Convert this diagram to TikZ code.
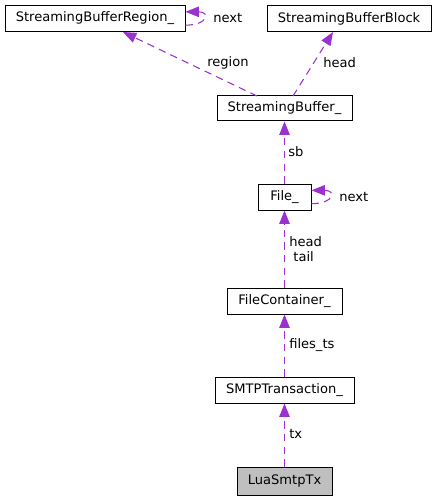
\documentclass[tikz,border=0pt]{standalone}
\usepackage{fontspec}
\setmainfont{DejaVu Sans}
\usetikzlibrary{arrows.meta}
\definecolor{edgec}{HTML}{9A32CD}
\definecolor{boxgray}{HTML}{BFBFBF}
\tikzset{
  cls/.style={draw=black, line width=0.75pt, fill=white, inner sep=0pt, font=\fontsize{9.8pt}{11pt}\selectfont, minimum height=0.75*26pt},
  dep/.style={draw=edgec, line width=0.8pt, dash pattern=on 5.5pt off 4pt, -{Triangle[length=10pt,width=7.8pt,fill=edgec]}},
  lbl/.style={font=\fontsize{9.8pt}{11pt}\selectfont, inner sep=0pt, anchor=west, align=left}
}
\begin{document}
\begin{tikzpicture}[x=0.75pt,y=-0.75pt]
\useasboundingbox (0,0) rectangle (436,499);
\node[cls, minimum width=0.75*180pt] (sbr) at (95,18.5) {StreamingBufferRegion\_};
\node[cls, minimum width=0.75*164pt] (sbb) at (349,18.5) {StreamingBufferBlock};
\node[cls, minimum width=0.75*135pt, minimum height=0.75*25pt] (sb) at (284.5,108.5) {StreamingBuffer\_};
\node[cls, minimum width=0.75*53pt] (file) at (284.5,197) {File\_};
\node[cls, minimum width=0.75*115pt] (fc) at (284.5,301) {FileContainer\_};
\node[cls, minimum width=0.75*139pt] (smtp) at (284.5,390) {SMTPTransaction\_};
\node[cls, fill=boxgray, minimum width=0.75*95pt, minimum height=0.75*28pt] (lua) at (284.5,481) {LuaSmtpTx};

\coordinate (sbrIn) at (123,32);
\coordinate (sbOutL) at (257,96);
\coordinate (sbbIn) at (333,32);
\coordinate (sbOutR) at (293,96);
\draw[dep] (sbOutL) -- (sbrIn);
\draw[dep] (sbOutR) -- (sbbIn);
\draw[dep] ([yshift=-5pt]sbr.east) .. controls +(17pt,0) and +(19pt,0) .. ([yshift=5pt]sbr.east);
\draw[dep] ([yshift=-5pt]file.east) .. controls +(17pt,0) and +(19pt,0) .. ([yshift=5pt]file.east);
\draw[dep] (file.north) -- (sb.south);
\draw[dep] (fc.north) -- (file.south);
\draw[dep] (smtp.north) -- (fc.south);
\draw[dep] (lua.north) -- (smtp.south);

\node[lbl] (l1) at (213,18) {next};
\node[lbl] (l2) at (207,63) {region};
\node[lbl] (l3) at (323,63) {head};
\node[lbl] (l4) at (288,152) {sb};
\node[lbl] (l5) at (339,197) {next};
\node[lbl] (l6) at (289,249) {head\\\ tail};
\node[lbl] (l7) at (289,345) {files\_ts};
\node[lbl] (l8) at (289,434) {tx};
\end{tikzpicture}
\end{document}
